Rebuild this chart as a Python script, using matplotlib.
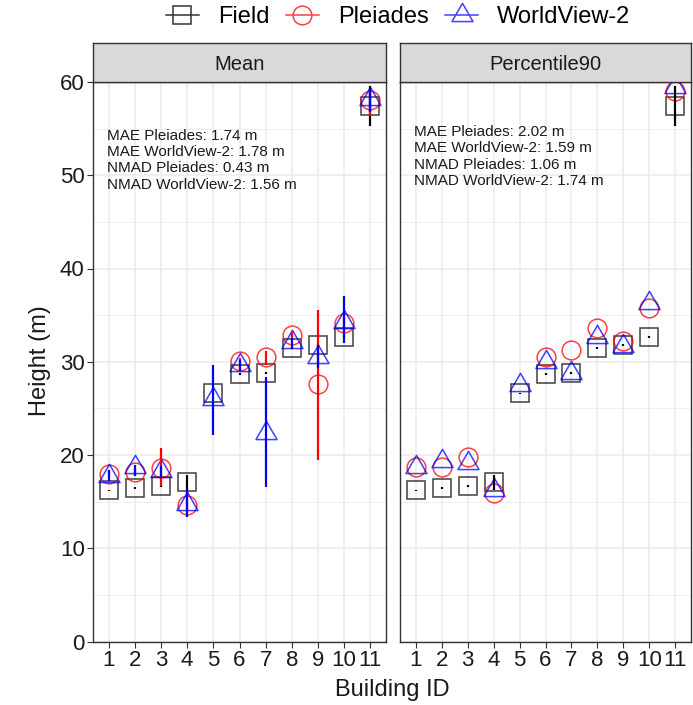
import numpy as np
import matplotlib.pyplot as plt
from matplotlib.lines import Line2D
from matplotlib.path import Path

plt.rcParams['font.family'] = ['Liberation Sans', 'DejaVu Sans']

building = np.arange(1, 12)

# field heights (same for both panels)
field = [16.2, 16.5, 16.7, 17.1, 26.6, 28.7, 28.8, 31.5, 31.8, 32.7, 57.4]
field_lo = [16.1, 16.4, 16.6, 16.3, 26.5, 28.6, 28.7, 31.4, 31.7, 32.6, 55.3]
field_hi = [16.3, 16.6, 16.8, 17.9, 26.7, 28.8, 28.9, 31.6, 31.9, 32.8, 59.6]

# Mean panel (no Pleiades value for building 5)
plei_mean = [18.0, 18.2, 18.6, 14.6, np.nan, 30.1, 30.5, 32.9, 27.6, 34.2, 58.1]
plei_mean_lo = [17.6, 17.7, 16.7, 13.4, np.nan, 29.1, 29.6, 32.3, 19.5, 33.1, 56.4]
plei_mean_hi = [18.4, 18.6, 20.7, 16.2, np.nan, 30.4, 31.1, 33.3, 35.6, 35.3, 59.3]
wv2_mean = [17.8, 18.7, 18.3, 14.7, 26.0, 29.6, 22.4, 32.1, 30.5, 34.3, 58.2]
wv2_mean_lo = [17.2, 17.8, 17.5, 13.4, 22.1, 29.0, 16.6, 31.5, 29.3, 32.0, 56.8]
wv2_mean_hi = [18.4, 18.9, 18.8, 16.2, 29.7, 30.2, 28.4, 32.6, 31.8, 37.1, 59.3]

# Percentile90 panel
plei_p90 = [18.7, 18.7, 19.8, 15.9, np.nan, 30.5, 31.3, 33.6, 32.2, 35.8, 59.0]
wv2_p90 = [18.7, 19.4, 19.1, 16.3, 27.5, 30.0, 28.8, 32.7, 31.7, 36.3, 59.5]

stats_mean = ["MAE Pleiades: 1.74 m", "MAE WorldView-2: 1.78 m",
              "NMAD Pleiades: 0.43 m", "NMAD WorldView-2: 1.56 m"]
stats_p90 = ["MAE Pleiades: 2.02 m", "MAE WorldView-2: 1.59 m",
             "NMAD Pleiades: 1.06 m", "NMAD WorldView-2: 1.74 m"]

tri = Path([(0, 1), (-0.866, -0.5), (0.866, -0.5), (0, 1)],
           [Path.MOVETO, Path.LINETO, Path.LINETO, Path.CLOSEPOLY])

W, H = 693, 705
fig = plt.figure(figsize=(W / 100, H / 100), dpi=100)


def px(x0, x1, y0, y1):
    return [x0 / W, 1 - y1 / H, (x1 - x0) / W, (y1 - y0) / H]


grey20 = '#333333'
ax1 = fig.add_axes(px(93, 386, 82, 641.5))
ax2 = fig.add_axes(px(400, 691, 82, 641.5))


def panel(ax, pl, wv, title, stats, plo=None, phi=None, wlo=None, whi=None, ty=55.5):
    ax.set_xlim(0.4, 11.6)
    ax.set_ylim(0, 60)
    ax.set_xticks(building)
    ax.set_yticks(range(0, 61, 10))
    ax.set_yticks(range(5, 60, 10), minor=True)
    ax.grid(True, which='major', color='#EBEBEB', lw=1.1)
    ax.grid(True, which='minor', axis='y', color='#EBEBEB', lw=0.6)
    ax.set_axisbelow(True)
    for s in ax.spines.values():
        s.set_color(grey20)
        s.set_linewidth(1.0)
    ax.tick_params(axis='both', which='major', labelsize=16, length=4,
                   color=grey20, labelcolor='#1a1a1a', pad=2)
    ax.tick_params(axis='y', which='minor', length=0)

    ax.plot(building, field, ls='none', marker='s', ms=13, mfc='none',
            mec='black', mew=1.1, alpha=0.75)
    ax.plot(building, pl, ls='none', marker='o', ms=13.5, mfc='none',
            mec='#FF0000', mew=1.1, alpha=0.75)
    ax.plot(building, wv, ls='none', marker=tri, ms=17.5, mfc='none',
            mec='#0000FF', mew=1.1, alpha=0.75)

    ax.vlines(building, field_lo, field_hi, colors='black', lw=1.6)
    if plo is not None:
        ax.vlines(building, plo, phi, colors='#FF0000', lw=1.6)
    if wlo is not None:
        ax.vlines(building, wlo, whi, colors='#0000FF', lw=1.6)

    ax.text(0.94, ty, "\n".join(stats), fontsize=11, va='top', ha='left',
            linespacing=1.22, color='#1a1a1a')

    b = ax.get_position()
    sax = fig.add_axes([b.x0, 1 - 81.7 / H, b.width, 39 / H])
    sax.set_facecolor('#D9D9D9')
    sax.set_xticks([])
    sax.set_yticks([])
    for s in sax.spines.values():
        s.set_color(grey20)
        s.set_linewidth(1.0)
    sax.text(0.5, 0.43, title, fontsize=14.5, ha='center', va='center',
             color='#1a1a1a', transform=sax.transAxes)


panel(ax1, plei_mean, wv2_mean, "Mean", stats_mean,
      plei_mean_lo, plei_mean_hi, wv2_mean_lo, wv2_mean_hi, ty=55.0)
panel(ax2, plei_p90, wv2_p90, "Percentile90", stats_p90, ty=55.4)
ax2.tick_params(axis='y', which='both', left=False, labelleft=False)

fig.text(40 / W, 1 - 361 / H, "Height (m)", rotation=90, fontsize=17,
         ha='center', va='center', color='#1a1a1a')
fig.text(392 / W, 1 - 690 / H, "Building ID", fontsize=17,
         ha='center', va='center', color='#1a1a1a')

handles = [
    Line2D([], [], color='#333333', marker='s', ms=13, mfc='none', mew=1.1, lw=1.1),
    Line2D([], [], color='#FF4040', marker='o', ms=13.5, mfc='none', mew=1.1, lw=1.1),
    Line2D([], [], color='#4040FF', marker=tri, ms=17.5, mfc='none', mew=1.1, lw=1.1),
]
fig.legend(handles, ["Field", "Pleiades", "WorldView-2"], ncol=3,
           loc='center', bbox_to_anchor=(398 / W, 1 - 17 / H), frameon=False,
           fontsize=17, handlelength=1.4, handletextpad=0.8, columnspacing=0.7,
           borderpad=0, borderaxespad=0)

fig.savefig('out.png', dpi=100)
